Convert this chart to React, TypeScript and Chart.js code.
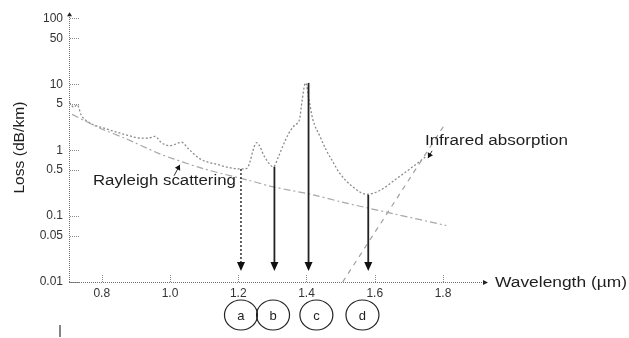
import React, { useEffect, useRef } from 'react';
import { Chart, registerables } from 'chart.js';

Chart.register(...registerables);

// Total fibre loss curve (wavelength in µm, loss in dB/km)
const lossWavelength = [0.705, 0.718, 0.728, 0.74, 0.765, 0.814, 0.863, 0.912, 0.935, 0.956, 0.975, 1.0, 1.034, 1.054, 1.088, 1.137, 1.205, 1.225, 1.254, 1.278, 1.303, 1.318, 1.332, 1.348, 1.362, 1.374, 1.38, 1.387, 1.397, 1.408, 1.418, 1.44, 1.458, 1.475, 1.497, 1.537, 1.576, 1.615, 1.664, 1.703, 1.75];
const lossValues = [5.3, 4.5, 4.9, 3.4, 2.6, 2.1, 1.76, 1.53, 1.52, 1.62, 1.3, 1.17, 1.32, 1.05, 0.74, 0.61, 0.52, 0.53, 1.3, 0.78, 0.56, 0.8, 1.2, 1.8, 2.3, 2.6, 3.0, 5.6, 10.5, 5.6, 3.0, 1.6, 1.0, 0.7, 0.45, 0.275, 0.214, 0.245, 0.37, 0.52, 0.8];

// Rayleigh scattering line
const rayleighWavelength = [0.713, 0.75, 0.8, 0.87, 0.97, 1.01, 1.1, 1.23, 1.3, 1.42, 1.5, 1.65, 1.81];
const rayleighValues = [3.5, 2.8, 2.1, 1.5, 0.88, 0.74, 0.52, 0.35, 0.28, 0.21, 0.165, 0.11, 0.072];

// Infrared absorption line
const infraredWavelength = [1.506, 1.806];
const infraredValues = [0.01, 2.5];

// Axis ticks
const xTicks = [0.8, 1.0, 1.2, 1.4, 1.6, 1.8];
const xTickLabels = ['0.8', '1.0', '1.2', '1.4', '1.6', '1.8'];
const yTicks = [100, 50, 10, 5, 1, 0.5, 0.1, 0.05, 0.01];
const yTickLabels = ['100', '50', '10', '5', '1', '0.5', '0.1', '0.05', '0.01'];

// Marked windows (arrows + circled letters)
const windowLetters = ['a', 'b', 'c', 'd'];
const arrowWavelength = [1.208, 1.306, 1.406, 1.581];
const arrowStartLoss = [0.52, 0.56, 10.5, 0.21];
const circleWavelength = [1.208, 1.302, 1.429, 1.564];

// Annotation anchors (data units)
const rayleighLabel = { text: 'Rayleigh scattering', x: 0.774, y: 0.336 };
const rayleighPointer = { fromX: 1.012, fromY: 0.41, toX: 1.029, toY: 0.6 };
const infraredLabel = { text: 'Infrared absorption', x: 1.747, y: 1.35 };
const infraredPointer = { fromX: 1.768, fromY: 0.98, toX: 1.756, toY: 0.76 };

const FONT = '"Liberation Sans", Arial, sans-serif';

function toXY(xs: number[], ys: number[]) {
  return xs.map((x, i) => ({ x, y: ys[i] }));
}

function stretchedText(ctx: CanvasRenderingContext2D, text: string, x: number, y: number, size: number, width: number) {
  ctx.save();
  ctx.font = `${size}px ${FONT}`;
  const w = ctx.measureText(text).width;
  ctx.translate(x, y);
  ctx.scale(width / w, 1);
  ctx.textAlign = 'left';
  ctx.textBaseline = 'middle';
  ctx.fillText(text, 0, 0);
  ctx.restore();
}

function arrowHead(ctx: CanvasRenderingContext2D, tx: number, ty: number, angle: number, len: number, half: number) {
  ctx.save();
  ctx.translate(tx, ty);
  ctx.rotate(angle);
  ctx.beginPath();
  ctx.moveTo(0, 0);
  ctx.lineTo(-len, -half);
  ctx.lineTo(-len, half);
  ctx.closePath();
  ctx.fill();
  ctx.restore();
}

const overlay = {
  id: 'overlay',
  afterDatasetsDraw(chart: any) {
    const { ctx, chartArea: ca, scales } = chart;
    const xs = scales.x;
    const ys = scales.y;
    ctx.save();

    // axes (dotted)
    ctx.strokeStyle = '#6f6f6f';
    ctx.fillStyle = '#222';
    ctx.lineWidth = 1;
    ctx.setLineDash([1, 1]);
    ctx.beginPath();
    ctx.moveTo(ca.left + 0.5, ca.bottom);
    ctx.lineTo(ca.left + 0.5, ca.top + 2);
    ctx.moveTo(ca.left, ca.bottom + 0.5);
    ctx.lineTo(ca.right - 3, ca.bottom + 0.5);
    ctx.stroke();
    arrowHead(ctx, ca.left + 0.5, ca.top - 1, -Math.PI / 2, 4, 2.5);
    arrowHead(ctx, ca.right + 1, ca.bottom + 0.5, 0, 5, 2.5);

    // tick marks
    ctx.strokeStyle = '#8a8a8a';
    ctx.beginPath();
    yTicks.forEach((v) => {
      const py = Math.round(ys.getPixelForValue(v)) + 0.5;
      ctx.moveTo(ca.left + 1, py);
      ctx.lineTo(ca.left + 10, py);
    });
    xTicks.forEach((v) => {
      const px = Math.round(xs.getPixelForValue(v)) + 0.5;
      ctx.moveTo(px, ca.bottom - 7);
      ctx.lineTo(px, ca.bottom);
    });
    ctx.stroke();

    // vertical arrows
    const tipY = ca.bottom - 11;
    arrowWavelength.forEach((wl, i) => {
      const px = xs.getPixelForValue(wl);
      const top = ys.getPixelForValue(arrowStartLoss[i]);
      ctx.strokeStyle = '#222';
      if (i === 0) {
        ctx.setLineDash([2, 2]);
        ctx.lineWidth = 1.4;
      } else {
        ctx.setLineDash([]);
        ctx.lineWidth = 1.8;
      }
      ctx.beginPath();
      ctx.moveTo(px, top);
      ctx.lineTo(px, tipY - 6);
      ctx.stroke();
      ctx.fillStyle = '#111';
      arrowHead(ctx, px, tipY, Math.PI / 2, 9, 4);
    });

    // circles with letters
    ctx.setLineDash([]);
    ctx.lineWidth = 1.2;
    ctx.strokeStyle = '#222';
    ctx.fillStyle = '#222';
    const cy = ca.bottom + 33;
    circleWavelength.forEach((wl, i) => {
      const px = xs.getPixelForValue(wl);
      ctx.beginPath();
      ctx.ellipse(px, cy, 16.5, 15, 0, 0, Math.PI * 2);
      ctx.stroke();
      ctx.font = `13px ${FONT}`;
      ctx.textAlign = 'center';
      ctx.textBaseline = 'middle';
      ctx.fillText(windowLetters[i], px, cy + 1);
    });

    // labels
    ctx.fillStyle = '#1e1e1e';
    stretchedText(ctx, rayleighLabel.text, xs.getPixelForValue(rayleighLabel.x), ys.getPixelForValue(rayleighLabel.y), 14, 143);
    stretchedText(ctx, infraredLabel.text, xs.getPixelForValue(infraredLabel.x), ys.getPixelForValue(infraredLabel.y), 14, 143);
    stretchedText(ctx, 'Wavelength (\u00b5m)', ca.right + 8, ca.bottom + 1, 14, 132);

    // pointers
    ctx.lineWidth = 1;
    ctx.strokeStyle = '#333';
    ctx.fillStyle = '#111';
    [rayleighPointer, infraredPointer].forEach((p) => {
      const x1 = xs.getPixelForValue(p.fromX);
      const y1 = ys.getPixelForValue(p.fromY);
      const x2 = xs.getPixelForValue(p.toX);
      const y2 = ys.getPixelForValue(p.toY);
      ctx.beginPath();
      ctx.moveTo(x1, y1);
      ctx.lineTo(x2, y2);
      ctx.stroke();
      arrowHead(ctx, x2, y2, Math.atan2(y2 - y1, x2 - x1), 5, 3);
    });

    // y axis title
    ctx.save();
    ctx.translate(20, (ca.top + ca.bottom) / 2);
    ctx.rotate(-Math.PI / 2);
    ctx.font = `14px ${FONT}`;
    const tw = ctx.measureText('Loss (dB/km)').width;
    ctx.scale(92 / tw, 1);
    ctx.textAlign = 'center';
    ctx.textBaseline = 'middle';
    ctx.fillStyle = '#1e1e1e';
    ctx.fillText('Loss (dB/km)', 0, 0);
    ctx.restore();

    // small stray mark bottom-left
    ctx.strokeStyle = '#333';
    ctx.lineWidth = 1.2;
    ctx.beginPath();
    ctx.moveTo(ca.left - 9, ca.bottom + 43);
    ctx.lineTo(ca.left - 9, ca.bottom + 55);
    ctx.stroke();

    ctx.restore();
  },
};

export default function App() {
  const ref = useRef<HTMLCanvasElement>(null);

  useEffect(() => {
    if (!ref.current) return;
    const chart = new Chart(ref.current, {
      type: 'scatter',
      data: {
        datasets: [
          {
            label: 'Rayleigh scattering',
            data: toXY(rayleighWavelength, rayleighValues),
            showLine: true,
            borderColor: '#a8a8a8',
            borderWidth: 1.2,
            borderDash: [7, 3, 2, 3],
            pointRadius: 0,
            tension: 0.3,
          },
          {
            label: 'Infrared absorption',
            data: toXY(infraredWavelength, infraredValues),
            showLine: true,
            borderColor: '#a0a0a0',
            borderWidth: 1.2,
            borderDash: [5, 5],
            pointRadius: 0,
          },
          {
            label: 'Loss',
            data: toXY(lossWavelength, lossValues),
            showLine: true,
            borderColor: '#8c8c8c',
            borderWidth: 1.3,
            borderDash: [2, 2],
            pointRadius: 0,
            cubicInterpolationMode: 'monotone',
          },
        ],
      },
      options: {
        responsive: false,
        animation: false,
        devicePixelRatio: 1,
        layout: { padding: { left: 0, right: 142, top: 12, bottom: 0 } },
        plugins: { legend: { display: false }, tooltip: { enabled: false }, title: { display: false } },
        scales: {
          x: {
            type: 'linear',
            min: 0.704,
            max: 1.929,
            grid: { display: false, drawTicks: false },
            border: { display: false },
            afterBuildTicks: (s: any) => {
              s.ticks = xTicks.map((v) => ({ value: v }));
            },
            afterFit: (s: any) => {
              s.height = 56;
            },
            ticks: {
              autoSkip: false,
              maxRotation: 0,
              padding: 4,
              color: '#333',
              font: { family: FONT, size: 12 },
              callback: (v: any) => {
                const i = xTicks.indexOf(Number(v));
                return i >= 0 ? xTickLabels[i] : '';
              },
            },
          },
          y: {
            type: 'logarithmic',
            min: 0.01,
            max: 120,
            grid: { display: false, drawTicks: false },
            border: { display: false },
            afterBuildTicks: (s: any) => {
              s.ticks = yTicks.map((v) => ({ value: v }));
            },
            afterFit: (s: any) => {
              s.width = 69;
            },
            ticks: {
              autoSkip: false,
              padding: 6,
              color: '#333',
              font: { family: FONT, size: 12 },
              callback: (v: any) => {
                const i = yTicks.findIndex((t) => Math.abs(t - Number(v)) < t * 1e-6);
                return i >= 0 ? yTickLabels[i] : '';
              },
            },
          },
        },
      },
      plugins: [overlay],
    } as any);
    return () => chart.destroy();
  }, []);

  return (
    <div style={{ position: 'absolute', left: 0, top: 0, width: 629, height: 338, background: '#fff' }}>
      <canvas ref={ref} width={629} height={338} />
    </div>
  );
}
